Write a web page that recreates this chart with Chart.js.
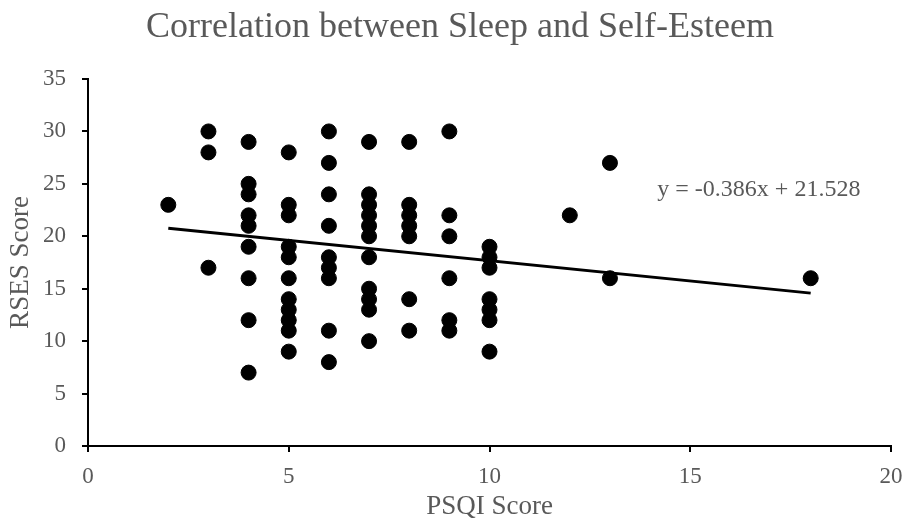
<!DOCTYPE html>
<html>
<head>
<meta charset="utf-8">
<script src="https://cdn.jsdelivr.net/npm/chart.js@4"></script>
<style>
html,body{margin:0;padding:0;background:#fff;}
#wrap{width:902px;height:525px;}
</style>
</head>
<body>
<div id="wrap"><canvas id="c" width="902" height="525"></canvas></div>
<script>
const psqi = [2,3,3,3,4,4,4,4,4,4,4,4,4,5,5,5,5,5,5,5,5,5,5,5,6,6,6,6,6,6,6,6,6,7,7,7,7,7,7,7,7,7,7,7,8,8,8,8,8,8,8,9,9,9,9,9,9,10,10,10,10,10,10,10,12,13,13,18];
const rses = [23,30,28,17,29,25,24,22,21,19,16,12,7,28,23,22,19,18,16,14,13,12,11,9,30,27,24,21,18,17,16,11,8,29,24,23,22,21,20,18,15,14,13,10,29,23,22,21,20,14,11,30,22,20,16,12,11,19,18,17,14,13,12,9,22,27,16,16];
const slope = -0.386;
const intercept = 21.528;
const trendX = [2, 18];
const xTicks = [0,5,10,15,20];
const yTicks = [0,5,10,15,20,25,30,35];
const titleText = 'Correlation between Sleep and Self-Esteem';
const xTitle = 'PSQI Score';
const yTitle = 'RSES Score';
const eqText = 'y = -0.386x + 21.528';

const scatterData = psqi.map((x,i)=>({x:x,y:rses[i]}));
const trendData = trendX.map(x=>({x:x,y:slope*x+intercept}));
const grey = '#595959';
const serif = "'Liberation Serif','Times New Roman',serif";

const textPlugin = {
  id:'texts',
  afterDatasetsDraw(chart){
    const ctx = chart.ctx;
    const xs = chart.scales.x, ys = chart.scales.y;
    ctx.save();
    ctx.fillStyle = grey;
    ctx.textBaseline = 'middle';
    ctx.font = '24px ' + serif;
    ctx.textAlign = 'left';
    ctx.fillText(eqText, xs.getPixelForValue(14.18), ys.getPixelForValue(24.4));
    ctx.font = '36px ' + serif;
    ctx.textAlign = 'center';
    ctx.fillText(titleText, 460, 28);
    ctx.restore();
  }
};

new Chart(document.getElementById('c'), {
  type:'scatter',
  data:{datasets:[
    {type:'line', data:trendData, borderColor:'#000', borderWidth:3, pointRadius:0, fill:false, order:0},
    {type:'scatter', data:scatterData, backgroundColor:'#000', borderColor:'#000', pointRadius:7.5, pointHoverRadius:7.5, order:1}
  ]},
  options:{
    responsive:false,
    animation:false,
    layout:{padding:{left:0,right:11,top:79,bottom:2}},
    plugins:{
      legend:{display:false},
      tooltip:{enabled:false},
      title:{display:false}
    },
    scales:{
      x:{type:'linear', min:0, max:20,
        afterBuildTicks(s){ s.ticks = xTicks.map(v=>({value:v})); },
        afterFit(s){ s.height = 77; s.paddingLeft = 0; s.paddingRight = 0; },
        grid:{display:true, drawOnChartArea:false, drawTicks:true, tickLength:6, color:'#000', lineWidth:2},
        border:{display:true, color:'#000', width:2},
        ticks:{color:grey, font:{family:serif,size:23}, padding:11, maxRotation:0},
        title:{display:true, text:xTitle, color:grey, font:{family:serif,size:27}, padding:{top:0,bottom:0}}
      },
      y:{type:'linear', min:0, max:35,
        afterBuildTicks(s){ s.ticks = yTicks.map(v=>({value:v})); },
        afterFit(s){ s.width = 88; s.paddingTop = 0; s.paddingBottom = 0; },
        grid:{display:true, drawOnChartArea:false, drawTicks:true, tickLength:6, color:'#000', lineWidth:2},
        border:{display:true, color:'#000', width:2},
        ticks:{color:grey, font:{family:serif,size:23}, padding:16},
        title:{display:true, text:yTitle, color:grey, font:{family:serif,size:27}, padding:{top:5,bottom:0}}
      }
    }
  },
  plugins:[textPlugin]
});
</script>
</body>
</html>
